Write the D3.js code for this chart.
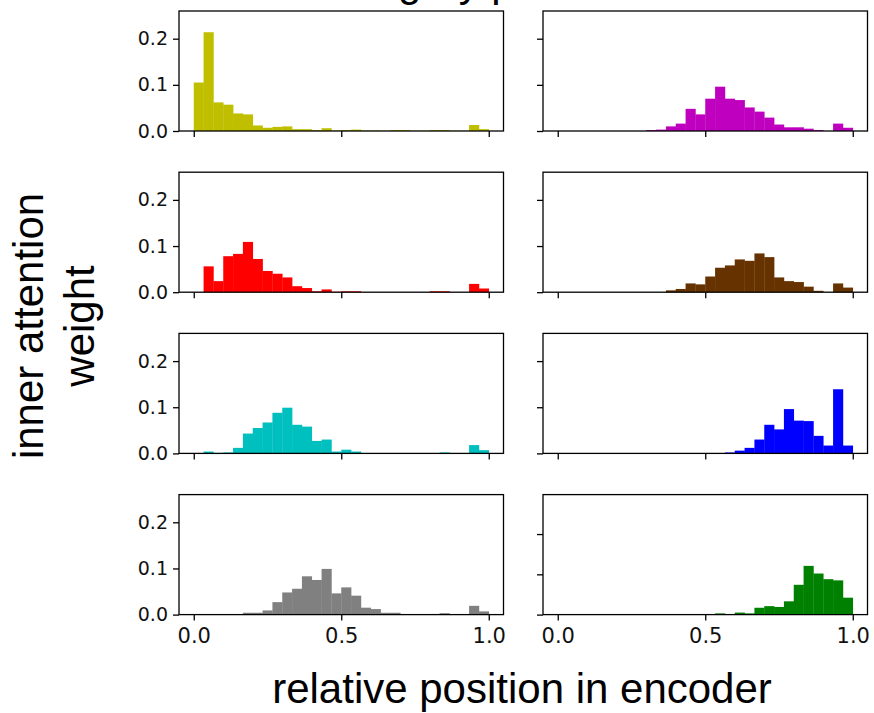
<!DOCTYPE html>
<html>
<head>
<meta charset="utf-8">
<script src="https://cdn.jsdelivr.net/npm/d3@7"></script>
<style>
  body { margin: 0; background: #fff; }
  svg { display: block; }
</style>
</head>
<body>
<div id="chart"></div>
<script>
const width = 874;
const height = 713;

// 30 equal bins over the relative position [0, 1]
const binCount = 30;
const xTicks = [0, 0.5, 1];
const yTicks = [0, 0.1, 0.2];

// inner attention weight per bin
const yellowWeights = [0.105, 0.214, 0.062, 0.057, 0.038, 0.036, 0.012, 0.007, 0.009, 0.010,
  0.004, 0.004, 0.002, 0.006, 0.001, 0.002, 0.003, 0.001, 0.001, 0.0005,
  0.002, 0.002, 0.0005, 0.0005, 0.002, 0.002, 0.0005, 0.0005, 0.013, 0.004];
const magentaWeights = [0, 0, 0, 0, 0, 0, 0, 0, 0, 0.002,
  0.003, 0.010, 0.016, 0.048, 0.036, 0.070, 0.096, 0.070, 0.067, 0.051,
  0.042, 0.029, 0.014, 0.008, 0.008, 0.005, 0.002, 0, 0.016, 0.007];
const redWeights = [0, 0.056, 0.024, 0.078, 0.083, 0.109, 0.072, 0.046, 0.040, 0.032,
  0.013, 0.009, 0.002, 0.006, 0.001, 0.002, 0.002, 0, 0, 0,
  0, 0, 0, 0, 0.002, 0.002, 0, 0, 0.018, 0.008];
const brownWeights = [0, 0, 0, 0, 0, 0, 0, 0, 0, 0,
  0, 0.004, 0.007, 0.019, 0.017, 0.034, 0.053, 0.058, 0.071, 0.068,
  0.084, 0.076, 0.032, 0.024, 0.022, 0.012, 0.003, 0, 0.019, 0.010];
const cyanWeights = [0, 0.004, 0.001, 0.002, 0.012, 0.043, 0.055, 0.067, 0.088, 0.099,
  0.062, 0.058, 0.027, 0.030, 0.004, 0.008, 0.004, 0, 0, 0,
  0, 0, 0, 0, 0, 0.002, 0, 0, 0.018, 0.007];
const blueWeights = [0, 0, 0, 0, 0, 0, 0, 0, 0, 0,
  0, 0, 0, 0, 0, 0, 0, 0.002, 0.006, 0.012,
  0.030, 0.062, 0.052, 0.096, 0.071, 0.070, 0.038, 0.017, 0.139, 0.017];
const grayWeights = [0, 0, 0, 0, 0.001, 0.004, 0.004, 0.009, 0.027, 0.048,
  0.056, 0.083, 0.075, 0.099, 0.046, 0.059, 0.041, 0.015, 0.012, 0.004,
  0.004, 0.001, 0.001, 0.001, 0.001, 0.003, 0.001, 0.001, 0.019, 0.007];
const greenWeights = [0, 0, 0, 0, 0, 0, 0, 0, 0, 0,
  0, 0, 0, 0, 0, 0, 0.003, 0.001, 0.005, 0.003,
  0.017, 0.021, 0.019, 0.033, 0.074, 0.121, 0.102, 0.088, 0.085, 0.042];

const panels = [
  { values: yellowWeights,  color: '#bfbf00', row: 0, col: 0, yMax: 0.26 },
  { values: magentaWeights, color: '#bf00bf', row: 0, col: 1, yMax: 0.26 },
  { values: redWeights,     color: '#ff0000', row: 1, col: 0, yMax: 0.26 },
  { values: brownWeights,   color: '#663300', row: 1, col: 1, yMax: 0.26 },
  { values: cyanWeights,    color: '#00bfbf', row: 2, col: 0, yMax: 0.26 },
  { values: blueWeights,    color: '#0000ff', row: 2, col: 1, yMax: 0.26 },
  { values: grayWeights,    color: '#808080', row: 3, col: 0, yMax: 0.26 },
  { values: greenWeights,   color: '#008000', row: 3, col: 1, yMax: 0.298 }
];

// grid layout
const colLeft = [179, 543];
const panelW = 324.5;
const panelH = 120;
const rowTop = r => 11 + r * 161.2;

const svg = d3.select('#chart')
  .append('svg')
  .attr('width', width)
  .attr('height', height);

panels.forEach(p => {
  const g = svg.append('g')
    .attr('transform', `translate(${colLeft[p.col]},${rowTop(p.row)})`);

  const x = d3.scaleLinear().domain([-0.05, 1.05]).range([0, panelW]);
  const y = d3.scaleLinear().domain([0, p.yMax]).range([panelH, 0]);

  g.selectAll('rect.bar')
    .data(p.values)
    .join('rect')
    .attr('class', 'bar')
    .attr('x', (d, i) => x(i / binCount))
    .attr('width', (d, i) => x((i + 1) / binCount) - x(i / binCount) + 0.3)
    .attr('y', d => y(d))
    .attr('height', d => panelH - y(d))
    .attr('fill', p.color);

  const yAxis = d3.axisLeft(y)
    .tickValues(yTicks)
    .tickSize(6)
    .tickPadding(5)
    .tickFormat(p.col === 0 ? d3.format('.1f') : '');
  const ya = g.append('g').call(yAxis);

  const xAxis = d3.axisBottom(x)
    .tickValues(xTicks)
    .tickSize(6)
    .tickPadding(7)
    .tickFormat(p.row === 3 ? d3.format('.1f') : '');
  const xa = g.append('g').attr('transform', `translate(0,${panelH})`).call(xAxis);

  [ya, xa].forEach(a => {
    a.select('.domain').remove();
    a.selectAll('.tick line').attr('stroke', '#000').attr('stroke-width', 1.3);
    a.selectAll('.tick text')
      .attr('fill', '#111')
      .style('font-family', '"DejaVu Sans", sans-serif');
  });
  ya.selectAll('.tick text').style('font-size', '19px');
  xa.selectAll('.tick text').style('font-size', '21px');

  // frame
  g.append('rect')
    .attr('width', panelW)
    .attr('height', panelH)
    .attr('fill', 'none')
    .attr('stroke', '#000')
    .attr('stroke-width', 1.3);
});

const labelFont = '"Liberation Sans", Arial, sans-serif';

// title, mostly above the visible area
const title = svg.append('text')
  .attr('y', -4)
  .style('font-family', labelFont)
  .style('font-size', '42px')
  .text('Attention at category position');
const gAt = title.text().indexOf('g');
title.attr('x', 398 - title.node().getSubStringLength(0, gAt));

// y label in two lines
svg.append('text')
  .attr('transform', 'translate(43,326) rotate(-90)')
  .attr('text-anchor', 'middle')
  .style('font-family', labelFont)
  .style('font-size', '42px')
  .text('inner attention');
svg.append('text')
  .attr('transform', 'translate(94,326) rotate(-90)')
  .attr('text-anchor', 'middle')
  .style('font-family', labelFont)
  .style('font-size', '42px')
  .text('weight');

// x label
svg.append('text')
  .attr('x', 522)
  .attr('y', 703)
  .attr('text-anchor', 'middle')
  .style('font-family', labelFont)
  .style('font-size', '42px')
  .text('relative position in encoder');
</script>
</body>
</html>
